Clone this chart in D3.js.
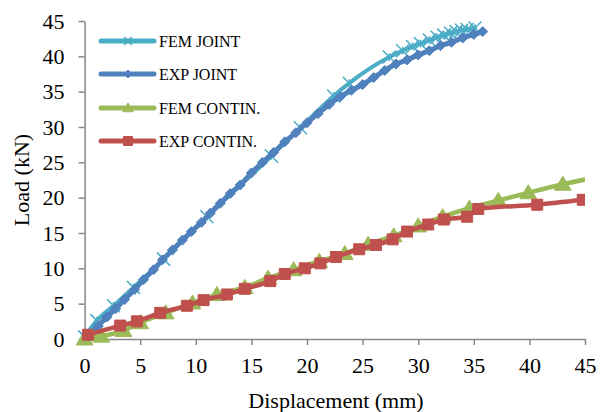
<!DOCTYPE html>
<html>
<head>
<meta charset="utf-8">
<script src="https://cdn.jsdelivr.net/npm/d3@7"></script>
<style>
  body { margin: 0; background: #fff; }
  text { font-family: "Liberation Serif", "Times New Roman", serif; fill: #000; }
</style>
</head>
<body>
<div id="chart"></div>
<script>
// values (displacement in mm, load in kN)
const femJointX = [0, 1.1, 2.6, 4.4, 7.1, 11.0, 16.8, 19.4, 22.4, 23.8, 27.4, 28.6, 29.5, 30.2, 31.0, 31.7, 32.3, 32.9, 33.4, 33.9, 34.4, 35.1];
const femJointY = [0.3, 2.6, 4.7, 7.3, 11.3, 17.3, 25.9, 29.9, 34.4, 36.2, 39.9, 40.8, 41.4, 41.8, 42.3, 42.7, 43.0, 43.3, 43.5, 43.7, 43.8, 44.0];

const expJointX = [0.5, 1.2, 2.0, 2.8, 3.6, 4.5, 5.3, 6.2, 7.0, 7.9, 8.8, 9.6, 10.5, 11.3, 12.2, 13.1, 14.0, 15.0, 16.0, 17.0, 18.0, 19.0, 20.0, 21.0, 22.0, 23.0, 24.0, 25.0, 26.0, 27.0, 28.0, 29.0, 30.0, 31.0, 32.0, 33.0, 34.0, 35.0, 35.8];
const expJointY = [0.6, 1.8, 3.1, 4.3, 5.6, 7.0, 8.4, 9.8, 11.2, 12.6, 14.0, 15.2, 16.5, 17.8, 19.2, 20.6, 21.8, 23.5, 25.0, 26.4, 27.9, 29.2, 30.6, 31.9, 33.2, 34.3, 35.2, 36.0, 37.0, 38.0, 38.9, 39.5, 40.2, 40.8, 41.5, 42.0, 42.6, 43.1, 43.5];

const femContX = [0, 1.5, 3.5, 5.0, 7.3, 9.7, 11.9, 14.4, 16.5, 18.8, 21.1, 23.4, 25.5, 27.8, 30.0, 32.2, 34.6, 37.2, 39.9, 43.0, 46.5];
const femContY = [0, 0.4, 1.2, 2.3, 3.7, 5.1, 6.3, 7.3, 8.6, 9.8, 11.0, 12.1, 13.4, 14.6, 16.0, 17.3, 18.5, 19.6, 20.7, 21.9, 23.0];

const expContX = [0.3, 3.2, 4.7, 6.8, 9.2, 10.7, 12.8, 14.4, 16.7, 18.0, 19.8, 21.2, 22.6, 24.7, 26.2, 27.7, 29.0, 30.9, 32.3, 34.4, 35.4, 40.7, 44.8];
const expContY = [0.6, 1.9, 2.5, 3.7, 4.7, 5.5, 6.3, 7.1, 8.2, 9.2, 10.0, 10.7, 11.6, 12.7, 13.3, 14.1, 15.2, 16.2, 16.9, 17.3, 18.4, 19.0, 19.7];

const seriesNames = ["FEM JOINT", "EXP JOINT", "FEM CONTIN.", "EXP CONTIN."];
const xTicks = [0, 5, 10, 15, 20, 25, 30, 35, 40, 45];
const yTicks = [0, 5, 10, 15, 20, 25, 30, 35, 40, 45];

const width = 600;
const height = 412;
const margin = { top: 21, right: 15, bottom: 73, left: 84.6 };

const svg = d3.select("#chart").append("svg")
  .attr("width", width)
  .attr("height", height);

const x = d3.scaleLinear().domain([0, 45]).range([margin.left, width - margin.right]);
const y = d3.scaleLinear().domain([0, 45]).range([height - margin.bottom, margin.top]);

svg.append("defs").append("clipPath").attr("id", "plot")
  .append("rect")
  .attr("x", x(0) - 12).attr("y", y(45) - 12)
  .attr("width", x(45) - x(0) + 12).attr("height", y(0) - y(45) + 24);

// axes
const xAxis = d3.axisBottom(x).tickValues(xTicks).tickSize(6).tickSizeOuter(0).tickPadding(8);
const yAxis = d3.axisLeft(y).tickValues(yTicks).tickSize(6).tickSizeOuter(0).tickPadding(14);

const gx = svg.append("g").attr("transform", `translate(0,${y(0)})`).call(xAxis);
const gy = svg.append("g").attr("transform", `translate(${x(0)},0)`).call(yAxis);
[gx, gy].forEach((g) => {
  g.selectAll("path, line").attr("stroke", "#868686").attr("stroke-width", 1.5);
  g.selectAll("text").attr("font-family", "Liberation Serif").attr("font-size", 22).attr("fill", "#000");
});
gx.selectAll("text").attr("dy", "0.9em");

svg.append("text")
  .attr("x", 336).attr("y", 408)
  .attr("text-anchor", "middle").attr("font-size", 22)
  .text("Displacement (mm)");

svg.append("text")
  .attr("transform", "translate(29,180) rotate(-90)")
  .attr("text-anchor", "middle").attr("font-size", 22)
  .text("Load (kN)");

// marker shapes
function crossPath(s) {
  return `M${-s},${-s}L${s},${s}M${-s},${s}L${s},${-s}M0,${-s * 0.6}L0,${s * 0.6}`;
}
function diamondPath(s) {
  return `M0,${-s}L${s},0L0,${s}L${-s},0Z`;
}
function trianglePath(s) {
  return `M0,${-s}L${s * 1.05},${s * 0.75}L${-s * 1.05},${s * 0.75}Z`;
}
function squarePath(s) {
  return `M${-s},${-s}H${s}V${s}H${-s}Z`;
}

const series = [
  { name: seriesNames[0], xs: femJointX, ys: femJointY, color: "#4bacc6", width: 4, marker: "cross", size: 6.5 },
  { name: seriesNames[1], xs: expJointX, ys: expJointY, color: "#4f81bd", width: 5, marker: "diamond", size: 5 },
  { name: seriesNames[2], xs: femContX, ys: femContY, color: "#9bbb59", width: 4.5, marker: "triangle", size: 8 },
  { name: seriesNames[3], xs: expContX, ys: expContY, color: "#c0504d", width: 4.5, marker: "square", size: 5.5 }
];

const line = d3.line()
  .x((d) => x(d[0]))
  .y((d) => y(d[1]))
  .curve(d3.curveMonotoneX);

const plot = svg.append("g").attr("clip-path", "url(#plot)");

function drawMarker(g, kind, size, color) {
  if (kind === "cross") {
    g.append("path").attr("d", crossPath(size)).attr("fill", "none")
      .attr("stroke", color).attr("stroke-width", 1.5);
  } else {
    const p = kind === "diamond" ? diamondPath(size)
      : kind === "triangle" ? trianglePath(size) : squarePath(size);
    g.append("path").attr("d", p).attr("fill", color).attr("stroke", color).attr("stroke-width", 1);
  }
}

series.forEach((s) => {
  const pts = s.xs.map((v, i) => [v, s.ys[i]]);
  plot.append("path")
    .datum(pts)
    .attr("d", line)
    .attr("fill", "none")
    .attr("stroke", s.color)
    .attr("stroke-width", s.width)
    .attr("stroke-linecap", "round")
    .attr("stroke-linejoin", "round");
  pts.forEach((p) => {
    const g = plot.append("g").attr("transform", `translate(${x(p[0])},${y(p[1])})`);
    drawMarker(g, s.marker, s.size, s.color);
  });
});

// legend
const legend = svg.append("g");
const legendY = [41, 74, 108, 141];
series.forEach((s, i) => {
  const ly = legendY[i];
  legend.append("line")
    .attr("x1", 101).attr("x2", 154)
    .attr("y1", ly).attr("y2", ly)
    .attr("stroke", s.color).attr("stroke-width", 5)
    .attr("stroke-linecap", "round");
  const g = legend.append("g").attr("transform", `translate(128,${ly})`);
  const small = { cross: 4, diamond: 4, triangle: 5, square: 4.5 }[s.marker];
  drawMarker(g, s.marker, small, s.color);
  legend.append("text")
    .attr("x", 159).attr("y", ly + 5.5)
    .attr("font-size", 16)
    .text(s.name);
});
</script>
</body>
</html>
